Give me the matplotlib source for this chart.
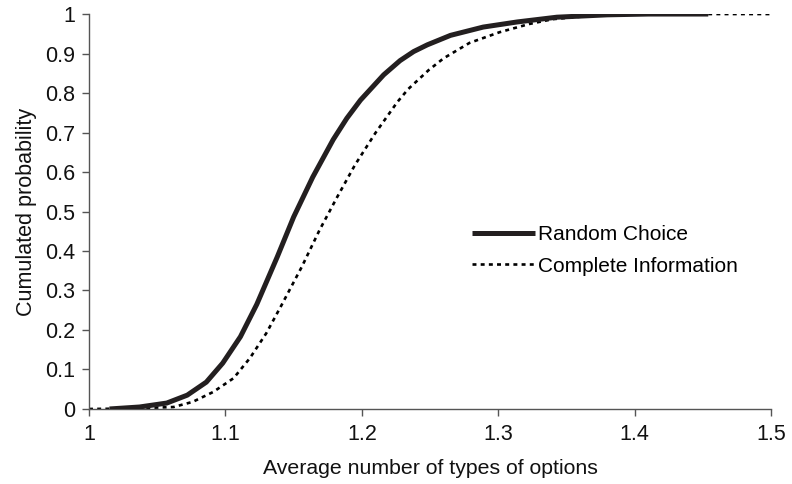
import matplotlib.pyplot as plt

plt.rcParams["font.family"] = ["Liberation Sans", "DejaVu Sans"]

# cumulative distribution of the average number of option types
random_x = [1.015, 1.037, 1.057, 1.072, 1.086, 1.098, 1.111, 1.123, 1.138, 1.150, 1.164,
            1.179, 1.189, 1.199, 1.216, 1.228, 1.238, 1.248, 1.265, 1.289, 1.314, 1.343,
            1.38, 1.41, 1.454]
random_y = [0.0, 0.005, 0.015, 0.035, 0.068, 0.116, 0.183, 0.265, 0.385, 0.486, 0.587,
            0.682, 0.736, 0.782, 0.846, 0.882, 0.905, 0.922, 0.946, 0.967, 0.98, 0.992,
            0.998, 1.0, 1.0]

complete_x = [1.0, 1.03, 1.062, 1.076, 1.091, 1.106, 1.118, 1.130, 1.141, 1.156, 1.169,
              1.182, 1.195, 1.210, 1.226, 1.234, 1.249, 1.26, 1.279, 1.301, 1.323, 1.34,
              1.376, 1.42, 1.5]
complete_y = [0.0, 0.001, 0.005, 0.018, 0.043, 0.078, 0.129, 0.192, 0.262, 0.36, 0.453,
              0.537, 0.618, 0.699, 0.777, 0.81, 0.858, 0.888, 0.927, 0.954, 0.975, 0.987,
              0.998, 1.0, 1.0]

x_ticks = [1.0, 1.1, 1.2, 1.3, 1.4, 1.5]
x_labels = ["1", "1.1", "1.2", "1.3", "1.4", "1.5"]
y_ticks = [0.0, 0.1, 0.2, 0.3, 0.4, 0.5, 0.6, 0.7, 0.8, 0.9, 1.0]
y_labels = ["0", "0.1", "0.2", "0.3", "0.4", "0.5", "0.6", "0.7", "0.8", "0.9", "1"]

fig = plt.figure(figsize=(7.92, 4.84), dpi=100)
ax = fig.add_axes([0.1124, 0.155, 0.8611, 0.816])

ax.plot(random_x, random_y, color="#231f20", lw=3.6, solid_capstyle="butt",
        label="Random Choice", zorder=3)
ax.plot(complete_x, complete_y, color="black", lw=1.9, linestyle=(0, (1.5, 1.6)),
        label="Complete Information", zorder=2)

ax.set_xlim(1.0, 1.5)
ax.set_ylim(0.0, 1.0)
ax.set_xticks(x_ticks)
ax.set_xticklabels(x_labels)
ax.set_yticks(y_ticks)
ax.set_yticklabels(y_labels)
ax.tick_params(direction="out", length=5, width=1, color="#555555",
               labelsize=15.5, labelcolor="#111111")
ax.tick_params(axis="y", pad=5)
ax.tick_params(axis="x", pad=6)

for side in ("top", "right"):
    ax.spines[side].set_visible(False)
for side in ("left", "bottom"):
    ax.spines[side].set_color("#555555")
    ax.spines[side].set_linewidth(1.0)

ax.set_xlabel("Average number of types of options", fontsize=15.3, color="#111111", labelpad=10)
ax.set_ylabel("Cumulated probability", fontsize=15.5, color="#111111", labelpad=6)

ax.legend(loc="upper left", bbox_to_anchor=(0.596, 0.535), bbox_transform=fig.transFigure,
          frameon=False, fontsize=15, handlelength=3.0, handletextpad=0.15,
          labelspacing=0.6, borderpad=0, borderaxespad=0)

fig.savefig("out.png", dpi=100)
